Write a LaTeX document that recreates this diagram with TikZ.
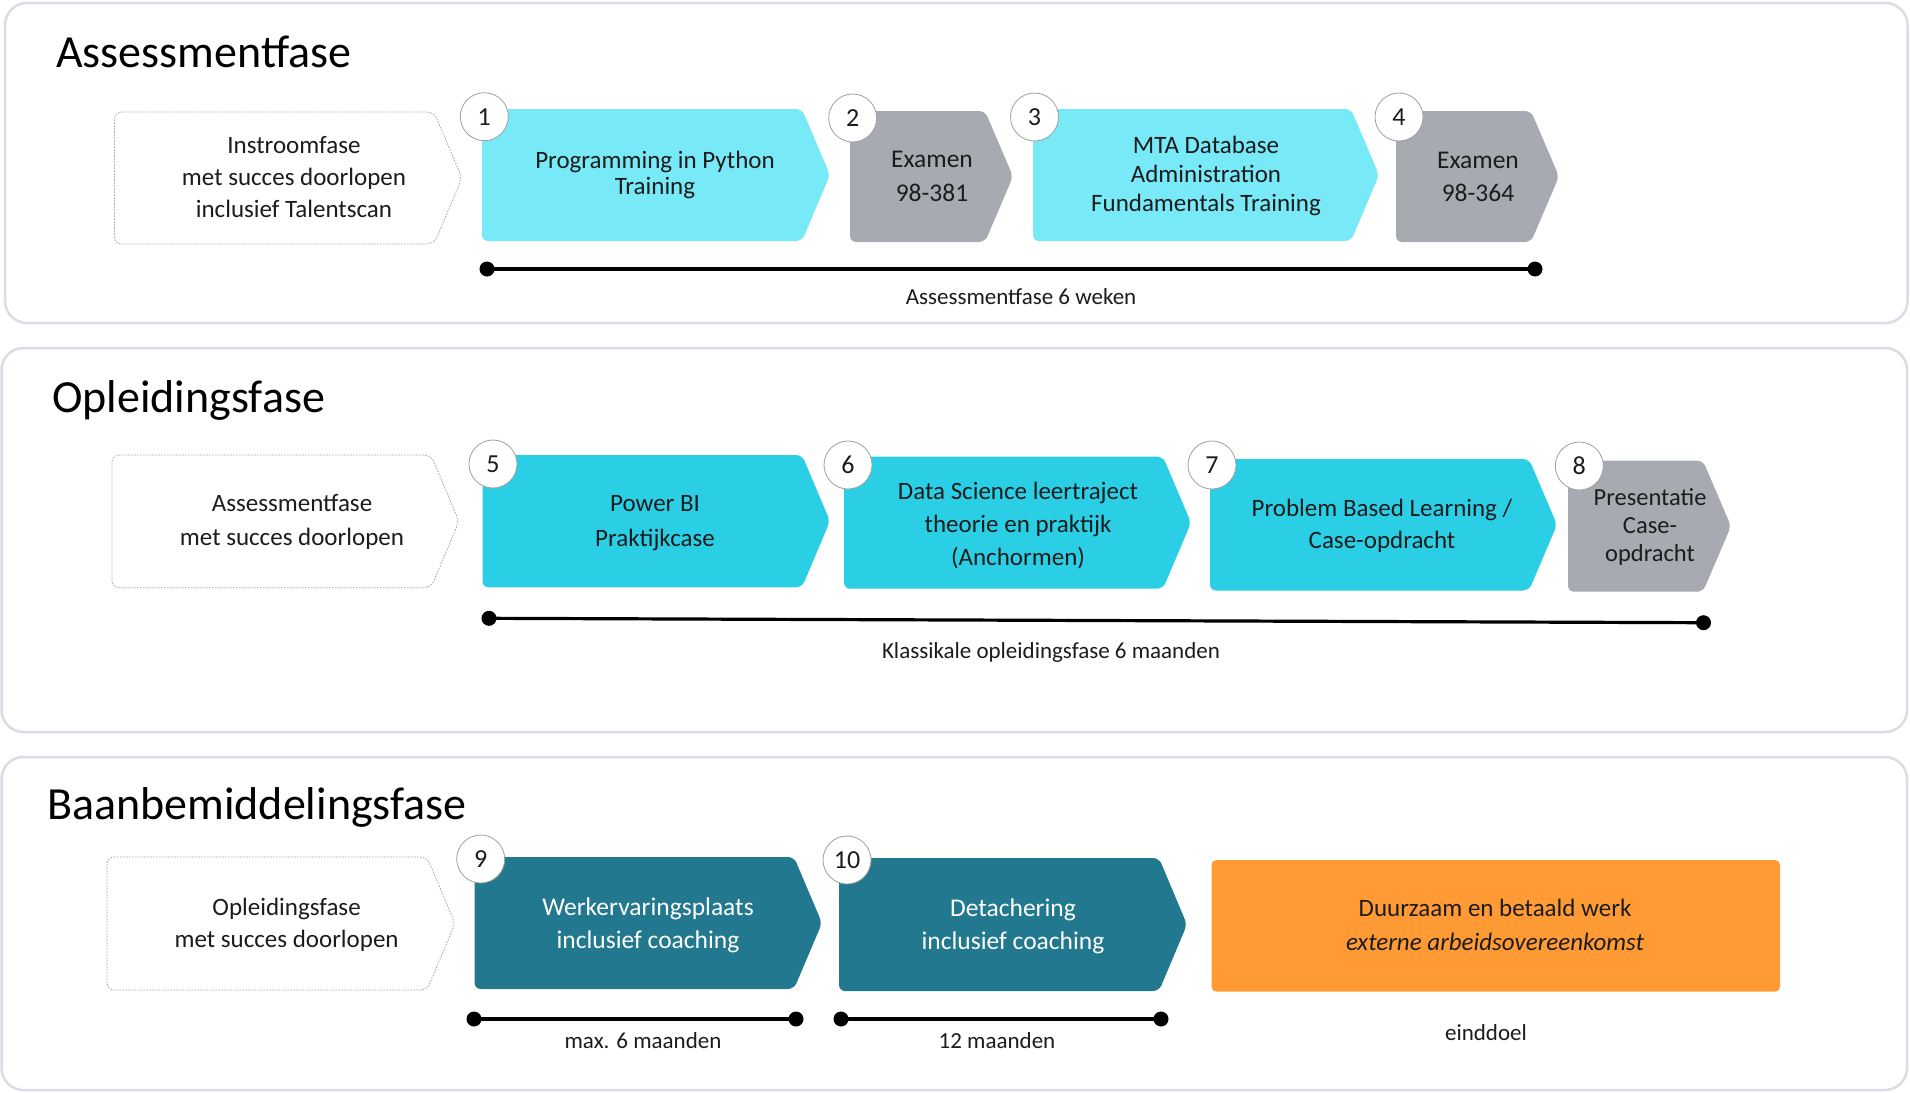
\documentclass[tikz,border=0pt]{standalone}
\usepackage{fontspec}
\setmainfont{Carlito}
\definecolor{lcyan}{HTML}{78E9F6}
\definecolor{mcyan}{HTML}{2BCFE5}
\definecolor{gstep}{HTML}{A7AAB0}
\definecolor{tealstep}{HTML}{21788F}
\definecolor{orng}{HTML}{FF9A35}
\definecolor{panelc}{HTML}{DCDCE6}
\definecolor{txt}{HTML}{1C1C1C}
\newcommand\fsz[2]{\fontsize{#1}{#2}\selectfont}
% chevron: #1 style, #2 x1, #3 y1, #4 x2, #5 y2
\newcommand\chevron[5]{%
  \path[#1] (#2,#3) -- ({#4-28},#3) -- (#4,{(#3+#5)/2}) -- ({#4-28},#5) -- (#2,#5) -- cycle;}
\tikzset{
  panel/.style={draw=panelc, line width=2.5pt, rounded corners=22pt, fill=white},
  ghost/.style={draw=gray!70, line width=0.8pt, dash pattern=on 1.6pt off 1.4pt, rounded corners=7pt, fill=white},
  stepfill/.style={fill=#1, rounded corners=6pt},
  numc/.style={circle, draw=gray!75, line width=0.8pt, fill=white, minimum size=48pt, inner sep=0pt, font=\fsz{26}{30}, text=txt},
  btxt/.style={align=center, inner sep=0pt, text=txt},
  ttl/.style={anchor=base west, inner sep=0pt, font=\fsz{46}{52}, text=black},
  lbl/.style={anchor=base, inner sep=0pt, font=\fsz{23}{27}, text=txt},
  tline/.style={line width=3.2pt, black},
}
\begin{document}
\begin{tikzpicture}[x=1pt, y=-1pt]
\useasboundingbox (0,0) rectangle (1910,1092);
\fill[white] (0,0) rectangle (1910,1092);

% ---------- panels ----------
\draw[panel] (5,3) rectangle (1907.5,323);
\draw[panel] (1.5,348) rectangle (1907,732);
\draw[panel] (1.5,757) rectangle (1907,1090);

% ---------- titles ----------
\node[ttl] (t1) at (56,67) {Assessmentfase};
\node[ttl] (t2) at (52,412) {Opleidingsfase};
\node[ttl] (t3) at (47,819) {Baanbemiddelingsfase};

% ---------- panel 1 ----------
\chevron{ghost}{114.5}{112}{462}{244}
\chevron{stepfill=lcyan}{482}{109}{830}{241}
\chevron{stepfill=gstep}{850}{111}{1013}{242}
\chevron{stepfill=lcyan}{1033}{109}{1379}{241}
\chevron{stepfill=gstep}{1396}{111}{1559}{242}

\node[btxt, font=\fsz{25}{32}] (in1) at (294,178.9)
  {\strut Instroomfase\\\strut met succes doorlopen\\\strut inclusief Talentscan};
\node[btxt, font=\fsz{25}{26.7}] (s1) at (655,176.3)
  {\strut Programming in Python\\\strut Training};
\node[btxt, font=\fsz{25.5}{33.7}] (s2) at (932,178.1)
  {\strut Examen\\\strut 98-381};
\node[btxt, font=\fsz{25}{28.85}] (s3) at (1206,177)
  {\strut MTA Database\\\strut Administration\\\strut Fundamentals Training};
\node[btxt, font=\fsz{25.5}{32.7}] (s4) at (1478,178.2)
  {\strut Examen\\\strut 98-364};

\node[numc] (c1) at (484.3,116.7) {1};
\node[numc] (c2) at (852.7,118) {2};
\node[numc] (c3) at (1034.5,117) {3};
\node[numc] (c4) at (1399,117) {4};

\coordinate (a1) at (487,269);
\coordinate (a2) at (1535,269);
\draw[tline] (a1) -- (a2);
\fill (a1) circle (7.5pt) (a2) circle (7.5pt);
\node[lbl] (l1) at (1021,304) {Assessmentfase 6 weken};

% ---------- panel 2 ----------
\chevron{ghost}{112}{455}{459}{587.7}
\chevron{stepfill=mcyan}{482.5}{455}{830}{587.3}
\chevron{stepfill=mcyan}{844}{456.7}{1191}{588.7}
\chevron{stepfill=mcyan}{1210}{459}{1557}{590.5}
\chevron{stepfill=gstep}{1568}{460.7}{1731}{591.7}

\node[btxt, font=\fsz{25}{33.3}] (in2) at (292,521.7)
  {\strut Assessmentfase\\\strut met succes doorlopen};
\node[btxt, font=\fsz{25}{35}] (s5) at (655,522.2)
  {\strut Power BI\\\strut Praktijkcase};
\node[btxt, font=\fsz{25}{32.85}] (s6) at (1018,525.6)
  {\strut Data Science leertraject\\\strut theorie en praktijk\\\strut (Anchormen)};
\node[btxt, font=\fsz{25}{31.6}] (s7) at (1382,526.2)
  {\strut Problem Based Learning /\\\strut Case-opdracht};
\node[btxt, font=\fsz{24.5}{28}] (s8) at (1650,528.1)
  {\strut Presentatie\\\strut Case-\\\strut opdracht};

\node[numc] (c5) at (493,464) {5};
\node[numc] (c6) at (848,465) {6};
\node[numc] (c7) at (1212,465) {7};
\node[numc] (c8) at (1579.3,466) {8};

\coordinate (b1) at (489,618.3);
\coordinate (b2) at (1703.5,622.7);
\draw[tline] (b1) -- (b2);
\fill (b1) circle (7.5pt) (b2) circle (7.5pt);
\node[lbl] (l2) at (1051,658.5) {Klassikale opleidingsfase 6 maanden};

% ---------- panel 3 ----------
\chevron{ghost}{107}{857}{455}{990}
\chevron{stepfill=tealstep}{474.6}{857}{822}{989}
\chevron{stepfill=tealstep}{839}{858}{1187}{991}
\path[fill=orng, rounded corners=5pt] (1211.5,860) rectangle (1780,991.7);

\node[btxt, font=\fsz{25}{32.3}] (in3) at (286.6,924.7)
  {\strut Opleidingsfase\\\strut met succes doorlopen};
\node[btxt, font=\fsz{25.5}{33}, text=white] (s9) at (648,924.9)
  {\strut Werkervaringsplaats\\\strut inclusief coaching};
\node[btxt, font=\fsz{25.5}{32.6}, text=white] (s10) at (1013,926.4)
  {\strut Detachering\\\strut inclusief coaching};
\node[btxt, font=\fsz{25}{33.3}] (goal) at (1495,926.7)
  {\strut Duurzaam en betaald werk\\\strut\textit{externe arbeidsovereenkomst}};

\node[numc] (c9) at (480.7,859) {9};
\node[numc] (c10) at (847,860) {10};

\coordinate (d1) at (474,1019);
\coordinate (d2) at (796,1019);
\coordinate (e1) at (841,1019);
\coordinate (e2) at (1161,1019);
\draw[tline] (d1) -- (d2);
\draw[tline] (e1) -- (e2);
\fill (d1) circle (7.5pt) (d2) circle (7.5pt) (e1) circle (7.5pt) (e2) circle (7.5pt);
\node[lbl] (l3) at (643,1048) {max. 6 maanden};
\node[lbl] (l4) at (997,1048) {12 maanden};
\node[lbl] (l5) at (1486,1040) {einddoel};
\end{tikzpicture}
\end{document}
